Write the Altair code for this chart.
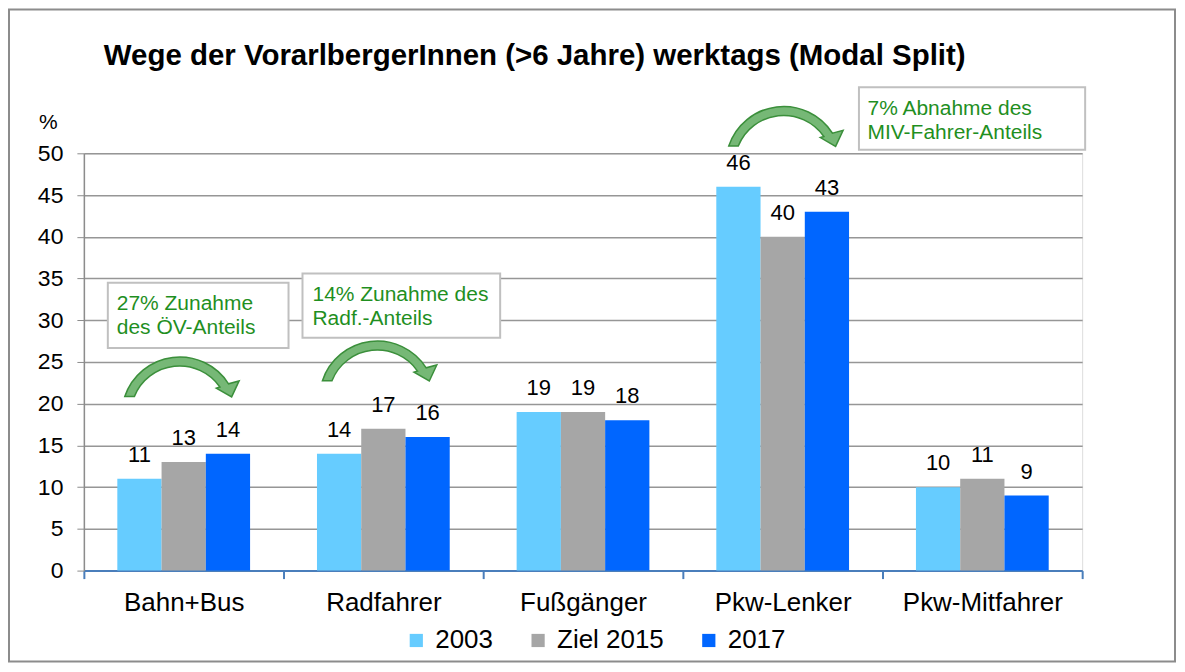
import altair as alt
import pandas as pd

# ---------------- data ----------------
categories = ["Bahn+Bus", "Radfahrer", "Fußgänger", "Pkw-Lenker", "Pkw-Mitfahrer"]
series = ["2003", "Ziel 2015", "2017"]
values_2003 = [11, 14, 19, 46, 10]
values_ziel_2015 = [13, 17, 19, 40, 11]
values_2017 = [14, 16, 18, 43, 9]
series_colors = ["#66CCFF", "#A6A6A6", "#0066FF"]
y_ticks = [0, 5, 10, 15, 20, 25, 30, 35, 40, 45, 50]

title_text = "Wege der VorarlbergerInnen (>6 Jahre) werktags (Modal Split)"

# annotation boxes (x in category units 0..5, y in % units)
box_x = [0.12, 1.095, 3.882]
box_x2 = [1.025, 2.085, 5.015]
box_y = [26.67, 27.91, 50.44]
box_y2 = [34.49, 35.61, 57.93]

note_lines = ["27% Zunahme", "des ÖV-Anteils",
              "14% Zunahme des", "Radf.-Anteils",
              "7% Abnahme des", "MIV-Fahrer-Anteils"]
note_x = [0.165, 0.165, 1.145, 1.145, 3.925, 3.925]
note_y = [31.97, 29.07, 33.01, 30.14, 55.35, 52.43]

# curved arrows (anchor = centre of the arc)
arrow_x = [0.48, 1.47, 3.505]
arrow_y = [18.66, 20.57, 48.68]

FONT = "Liberation Sans"
GREEN_TEXT = "#1f8f1f"

# ---------------- tables ----------------
rows = []
for s, vals in zip(series, [values_2003, values_ziel_2015, values_2017]):
    for c, v in zip(categories, vals):
        rows.append({"Kategorie": c, "Serie": s, "Wert": v})
bars_df = pd.DataFrame(rows)

boxes_df = pd.DataFrame({"x": box_x, "x2": box_x2, "Wert": box_y, "y2": box_y2})
notes_df = pd.DataFrame({"x": note_x, "Wert": note_y, "t": note_lines})
arrows_df = pd.DataFrame({"x": arrow_x, "Wert": arrow_y})

yscale = alt.Scale(domain=[0, 50], nice=False, zero=True)
pscale = alt.Scale(domain=[0, 5], nice=False, zero=False)

y_axis = alt.Axis(values=y_ticks, title="%", titleAngle=0, titleX=-36, titleY=-31,
                  titleAlign="center", titleBaseline="middle", titleFontSize=21,
                  titleFontWeight="normal", titleFont=FONT, titleColor="#000000",
                  labelFontSize=23, labelFont=FONT, labelColor="#000000",
                  labelPadding=14, tickSize=7, tickColor="#8c8c8c",
                  domainColor="#8c8c8c", domainWidth=1.5,
                  grid=True, gridColor="#969696", gridWidth=1.5)
Y = alt.Y("Wert:Q", scale=yscale, axis=y_axis)

# ---------------- bars + labels ----------------
base = alt.Chart(bars_df).encode(
    x=alt.X("Kategorie:N", sort=categories,
            scale=alt.Scale(paddingInner=0, paddingOuter=0),
            axis=alt.Axis(title=None, labelAngle=0, labelFontSize=26, labelFont=FONT,
                          labelColor="#000000", labelPadding=11, tickSize=8,
                          tickWidth=2, tickColor="#4a7ebb", domainColor="#4a7ebb",
                          domainWidth=2, tickBand="extent", grid=False)),
    xOffset=alt.XOffset("Serie:N", sort=series,
                        scale=alt.Scale(paddingOuter=0.756, paddingInner=0)),
    y=Y,
)

bars = base.mark_bar().encode(
    color=alt.Color("Serie:N", sort=series,
                    scale=alt.Scale(domain=series, range=series_colors),
                    legend=alt.Legend(title=None, orient="none", legendX=320, legendY=475,
                                      direction="horizontal", symbolType="square",
                                      symbolSize=175, symbolStrokeWidth=0,
                                      labelFontSize=26, labelFont=FONT,
                                      labelColor="#000000", columnPadding=32,
                                      labelOffset=6, padding=0))
)
labels = base.mark_text(baseline="alphabetic", dy=-17, fontSize=22, font=FONT,
                        color="#000000").encode(text="Wert:Q")
bar_layer = alt.layer(bars, labels)

# ---------------- annotations ----------------
frame = alt.Chart(pd.DataFrame({"k": [0]})).mark_rect(
    filled=False, stroke="#8c8c8c", strokeWidth=2
).encode(x=alt.value(-75), x2=alt.value(1093), y=alt.value(-144), y2=alt.value(509))

boxes = alt.Chart(boxes_df).mark_rect(fill="#ffffff", stroke="#c0c0c0", strokeWidth=2).encode(
    x=alt.X("x:Q", scale=pscale, axis=None),
    x2="x2:Q",
    y=Y,
    y2="y2:Q",
)

notes = alt.Chart(notes_df).mark_text(align="left", baseline="middle", fontSize=21,
                                      font=FONT, color=GREEN_TEXT).encode(
    x=alt.X("x:Q", scale=pscale, axis=None),
    y=Y,
    text="t:N",
)

arrow_path = ("M -0.917 -0.305 A 0.967 0.967 0 0 1 0.815 -0.519 "
              "L 0.992 -0.567 L 0.867 -0.300 L 0.612 -0.447 L 0.671 -0.465 "
              "A 0.817 0.817 0 0 0 -0.758 -0.305 Z")
arrows = alt.Chart(arrows_df).mark_point(
    shape=arrow_path, size=14400, filled=True, fill="#76b876",
    stroke="#3b8f3b", strokeWidth=1.5, opacity=1
).encode(
    x=alt.X("x:Q", scale=pscale, axis=None),
    y=Y,
)

title = alt.Chart(pd.DataFrame({"t": [title_text]})).mark_text(
    align="left", baseline="alphabetic", fontSize=29.5, fontWeight="bold",
    font=FONT, color="#000000"
).encode(x=alt.value(20), y=alt.value(-88), text="t:N")

chart = alt.layer(frame, boxes, bar_layer, arrows, notes, title).resolve_scale(
    x="independent"
).properties(
    width=1000, height=418,
    autosize=alt.AutoSizeParams(type="none"),
    padding={"left": 76, "top": 145, "right": 95, "bottom": 92},
).configure_view(stroke="transparent", strokeWidth=0).configure(background="#ffffff")

chart.save("out.html", embed_options={"renderer": "svg", "actions": False})
